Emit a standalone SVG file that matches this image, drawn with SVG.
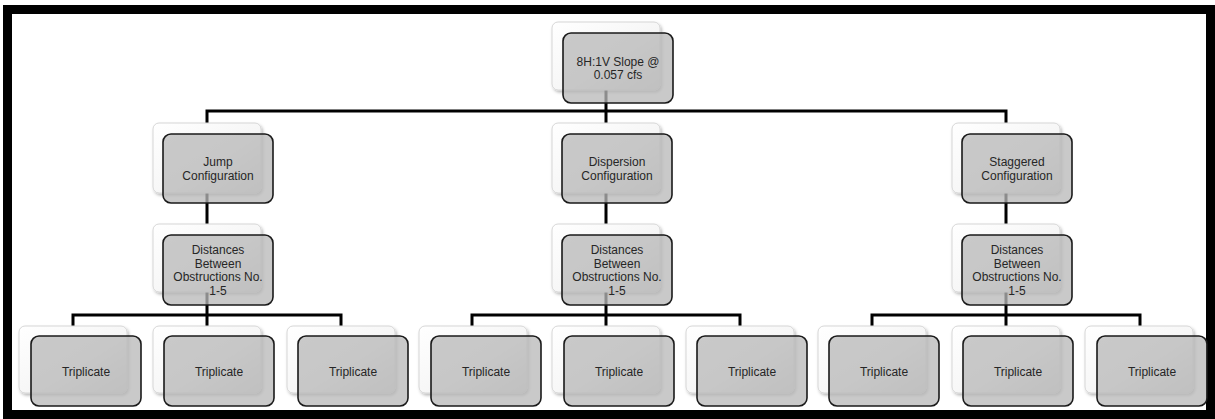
<svg xmlns="http://www.w3.org/2000/svg" width="1215" height="419" viewBox="0 0 1215 419">
<defs>
<linearGradient id="bg" x1="0" y1="0" x2="1" y2="1">
<stop offset="0" stop-color="#ffffff"/>
<stop offset="0.55" stop-color="#f6f6f6"/>
<stop offset="1" stop-color="#d9d9d9"/>
</linearGradient>
<filter id="sh" x="-10%" y="-10%" width="125%" height="125%">
<feDropShadow dx="1.5" dy="2" stdDeviation="1.5" flood-color="#000" flood-opacity="0.28"/>
</filter>
</defs>
<style>
.back{fill:url(#bg);stroke:#d6d6d6;stroke-width:1;filter:url(#sh)}
.front{fill:#b8b8b8;fill-opacity:0.76;stroke:#1a1a1a;stroke-width:1.6}
.conn{fill:none;stroke:#000;stroke-width:3;stroke-linejoin:miter;stroke-linecap:butt}
text{font-family:"Liberation Sans",Arial,sans-serif;font-size:12px;fill:#262626;text-anchor:middle}
</style>
<rect x="7.5" y="9.5" width="1203" height="405" fill="#fff" stroke="#000" stroke-width="9"/>
<g id="connectors" class="conn">
<path class="conn" d="M606 90V111M207 123V111H1006V123M606 111V123"/>
<path class="conn" d="M207 193V224M606 193V224M1006 193V224"/>
<path class="conn" d="M207 292V315M73 326V315H341V326M207 315V326"/>
<path class="conn" d="M606 292V315M472 326V315H740V326M606 315V326"/>
<path class="conn" d="M1006 292V315M872 326V315H1140V326M1006 315V326"/>
</g>
<g id="top">
<rect class="back" x="552" y="22" width="108" height="68" rx="6"/>
<rect class="front" x="563" y="33" width="110" height="70" rx="8"/>
<text x="618" y="66">8H:1V Slope @</text>
<text x="618" y="79">0.057 cfs</text>
</g>
<g id="jump">
<rect class="back" x="153" y="123" width="108" height="70" rx="6"/>
<rect class="front" x="163" y="134" width="110" height="69" rx="8"/>
<text x="218" y="166">Jump</text>
<text x="218" y="179.5">Configuration</text>
</g>
<g id="dispersion">
<rect class="back" x="552" y="123" width="108" height="70" rx="6"/>
<rect class="front" x="562" y="134" width="110" height="69" rx="8"/>
<text x="617" y="166">Dispersion</text>
<text x="617" y="179.5">Configuration</text>
</g>
<g id="staggered">
<rect class="back" x="952" y="123" width="108" height="70" rx="6"/>
<rect class="front" x="962" y="134" width="110" height="69" rx="8"/>
<text x="1017" y="166">Staggered</text>
<text x="1017" y="179.5">Configuration</text>
</g>
<g id="dist1">
<rect class="back" x="153" y="224" width="108" height="68" rx="6"/>
<rect class="front" x="163" y="235" width="110" height="70" rx="8"/>
<text x="218" y="254">Distances</text>
<text x="218" y="267.5">Between</text>
<text x="218" y="281">Obstructions No.</text>
<text x="218" y="294.5">1-5</text>
</g>
<g id="dist2">
<rect class="back" x="552" y="224" width="108" height="68" rx="6"/>
<rect class="front" x="562" y="235" width="110" height="70" rx="8"/>
<text x="617" y="254">Distances</text>
<text x="617" y="267.5">Between</text>
<text x="617" y="281">Obstructions No.</text>
<text x="617" y="294.5">1-5</text>
</g>
<g id="dist3">
<rect class="back" x="952" y="224" width="108" height="68" rx="6"/>
<rect class="front" x="962" y="235" width="110" height="70" rx="8"/>
<text x="1017" y="254">Distances</text>
<text x="1017" y="267.5">Between</text>
<text x="1017" y="281">Obstructions No.</text>
<text x="1017" y="294.5">1-5</text>
</g>
<g id="t1"><rect class="back" x="19" y="326" width="108" height="67" rx="6"/><rect class="front" x="31" y="336" width="110" height="70" rx="8"/><text x="86" y="375.5">Triplicate</text></g>
<g id="t2"><rect class="back" x="153" y="326" width="108" height="67" rx="6"/><rect class="front" x="164" y="336" width="110" height="70" rx="8"/><text x="219" y="375.5">Triplicate</text></g>
<g id="t3"><rect class="back" x="287" y="326" width="108" height="67" rx="6"/><rect class="front" x="298" y="336" width="110" height="70" rx="8"/><text x="353" y="375.5">Triplicate</text></g>
<g id="t4"><rect class="back" x="419" y="326" width="108" height="67" rx="6"/><rect class="front" x="431" y="336" width="110" height="70" rx="8"/><text x="486" y="375.5">Triplicate</text></g>
<g id="t5"><rect class="back" x="552" y="326" width="108" height="67" rx="6"/><rect class="front" x="564" y="336" width="110" height="70" rx="8"/><text x="619" y="375.5">Triplicate</text></g>
<g id="t6"><rect class="back" x="686" y="326" width="108" height="67" rx="6"/><rect class="front" x="697" y="336" width="110" height="70" rx="8"/><text x="752" y="375.5">Triplicate</text></g>
<g id="t7"><rect class="back" x="818" y="326" width="108" height="67" rx="6"/><rect class="front" x="829" y="336" width="110" height="70" rx="8"/><text x="884" y="375.5">Triplicate</text></g>
<g id="t8"><rect class="back" x="952" y="326" width="108" height="67" rx="6"/><rect class="front" x="963" y="336" width="110" height="70" rx="8"/><text x="1018" y="375.5">Triplicate</text></g>
<g id="t9"><rect class="back" x="1085" y="326" width="108" height="67" rx="6"/><rect class="front" x="1097" y="336" width="110" height="70" rx="8"/><text x="1152" y="375.5">Triplicate</text></g>
</svg>
